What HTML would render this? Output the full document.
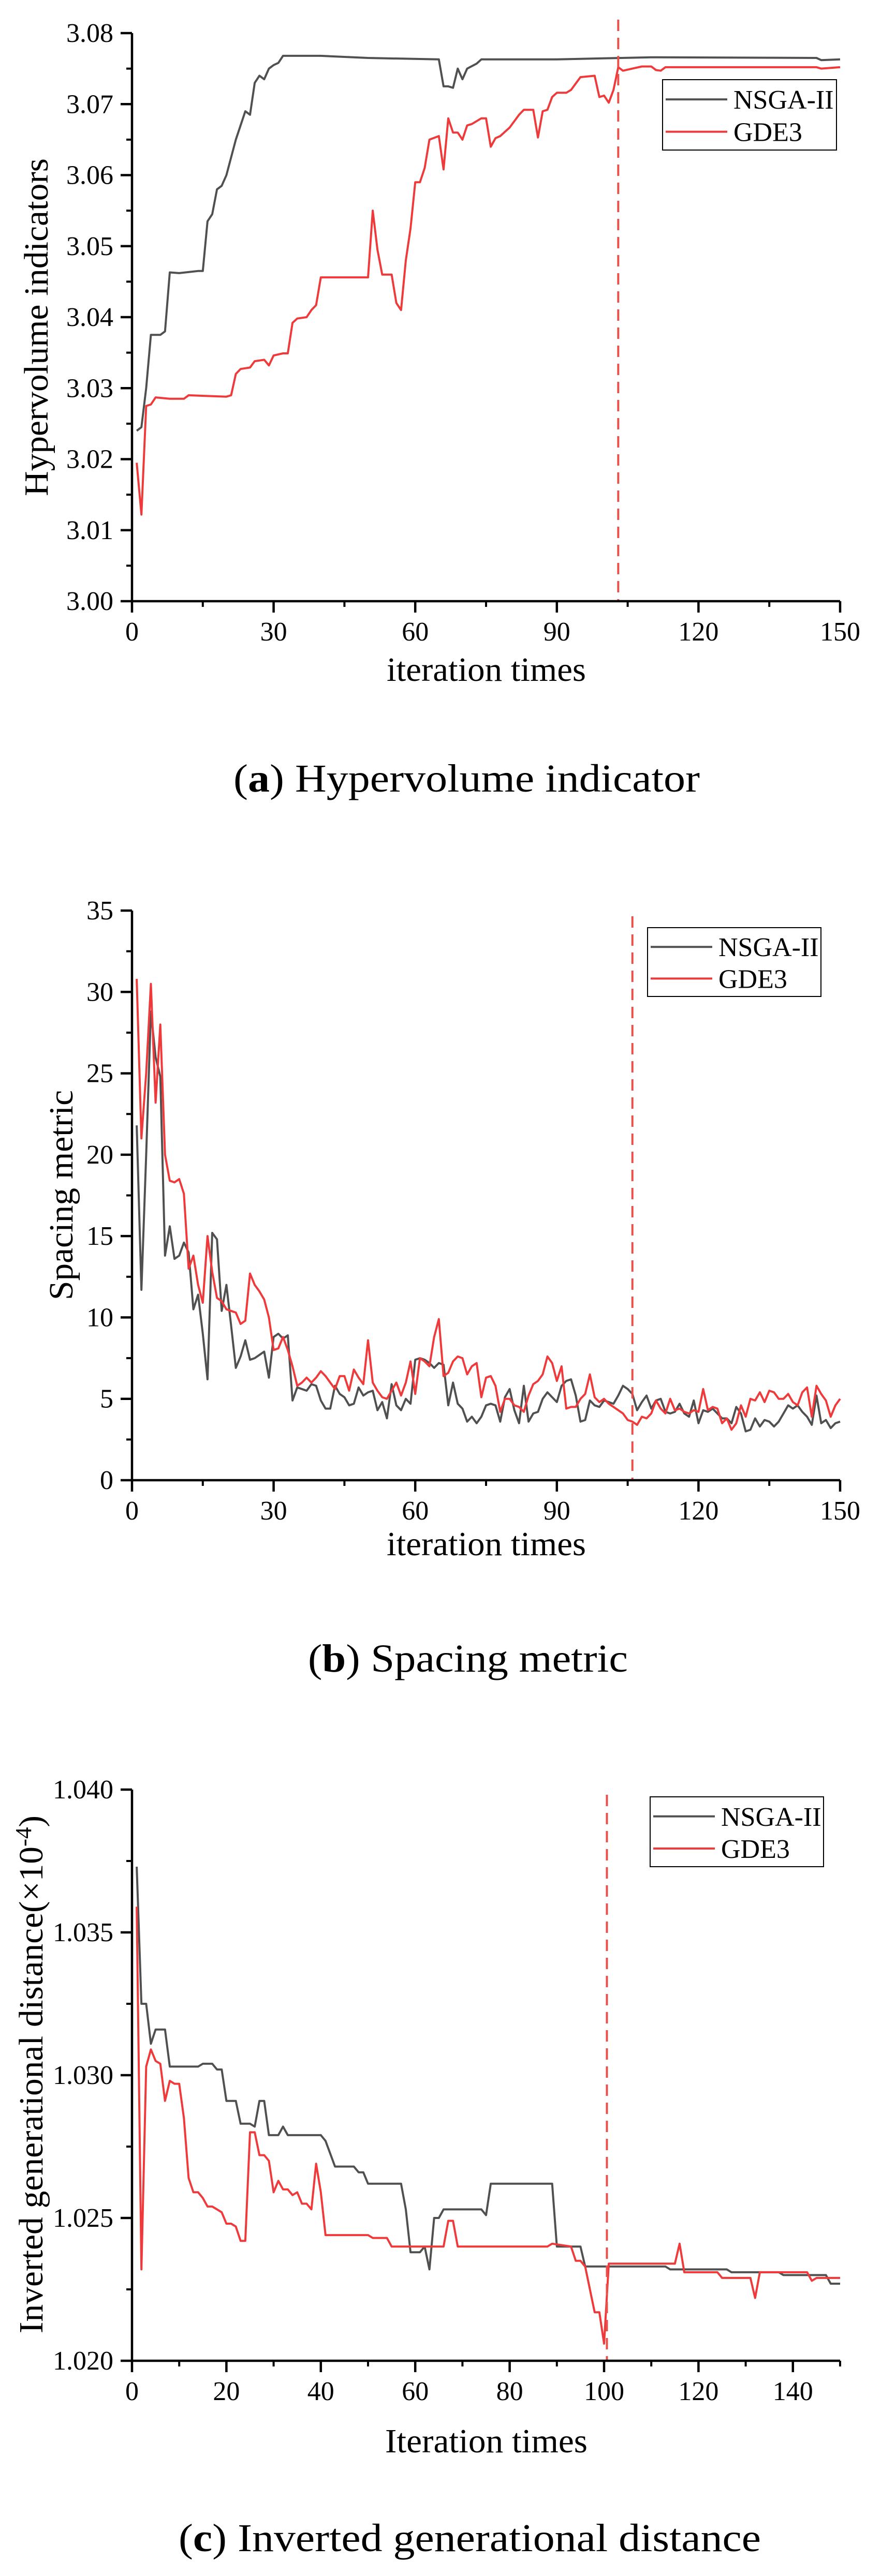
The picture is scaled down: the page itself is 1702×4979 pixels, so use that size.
<!DOCTYPE html>
<html><head><meta charset="utf-8"><style>
html,body{margin:0;padding:0;background:#fff}
svg{display:block}
text{font-family:"Liberation Serif",serif;fill:#000}
</style></head><body>
<svg id="fig" width="1702" height="4979" viewBox="0 0 1702 4979" xmlns="http://www.w3.org/2000/svg"></svg>
<script>
// ---- Chart (a) data ----
const hvNsgaX=[1,2,3,4,6,7,8,10,14,15,16,17,18,19,20,22,24,25,26,27,28,29,30,31,32,40,50,65,66,67,68,69,70,71,73,74,85,90,110,145,146,150];
const hvNsgaY=[3.024,3.0245,3.030,3.0375,3.0375,3.038,3.0463,3.0462,3.0465,3.0465,3.0535,3.0545,3.058,3.0585,3.060,3.065,3.069,3.0685,3.073,3.074,3.0735,3.075,3.0755,3.0758,3.0768,3.0768,3.0765,3.0763,3.0725,3.0725,3.0723,3.075,3.0735,3.075,3.0757,3.0763,3.0763,3.0763,3.0766,3.0765,3.0762,3.0763];
const hvGdeX=[1,2,3,4,5,8,11,12,20,21,22,23,25,26,28,29,30,32,33,34,35,37,38,39,40,50,51,52,53,55,56,57,58,59,60,61,62,63,65,66,67,68,69,70,71,72,74,75,76,77,78,80,82,83,85,86,87,88,89,90,92,93,95,98,99,100,101,102,103,104,106,108,110,111,112,113,145,146,150];
const hvGdeY=[3.0195,3.0122,3.0275,3.0277,3.0287,3.0285,3.0285,3.029,3.0288,3.029,3.032,3.0327,3.0329,3.0338,3.034,3.0332,3.0346,3.0349,3.0349,3.0392,3.0398,3.04,3.041,3.0417,3.0456,3.0456,3.055,3.0495,3.046,3.046,3.042,3.041,3.048,3.0525,3.059,3.059,3.061,3.065,3.0655,3.0608,3.068,3.066,3.066,3.065,3.067,3.0672,3.068,3.068,3.064,3.0652,3.0655,3.0667,3.0685,3.0692,3.0692,3.0653,3.069,3.0692,3.071,3.0716,3.0716,3.072,3.0738,3.074,3.071,3.0712,3.0702,3.072,3.0752,3.0747,3.075,3.0753,3.0753,3.0748,3.0747,3.0752,3.0752,3.075,3.0752];
const hvYTicks=["3.00","3.01","3.02","3.03","3.04","3.05","3.06","3.07","3.08"];
const hvXTicks=["0","30","60","90","120","150"];
const hvMarker=[103];
// ---- Chart (b) data ----
const spNsgaY=[21.8,11.7,20,28.8,26,24.8,13.8,15.6,13.6,13.8,14.6,14,10.5,11.4,9,6.2,15.2,14.8,10.4,12,9.5,6.9,7.6,8.6,7.4,7.5,7.7,7.9,6.3,8.8,9,8.7,8.9,4.9,5.7,5.6,5.5,5.9,5.8,4.9,4.4,4.4,5.8,5.3,5.1,4.6,4.7,5.7,5.2,5.4,5.5,4.3,4.8,3.8,5.9,4.6,4.3,5,4.7,7.4,7.5,7.4,7.2,6.9,7.2,7.1,4.6,6,4.7,4.4,3.6,3.9,3.5,3.9,4.6,4.7,4.6,3.6,5.1,5.6,4.3,3.5,5.8,3.6,4.1,4.2,5,5.4,5.1,4.8,5.8,6.1,6.2,5.2,3.6,3.7,4.9,4.6,4.5,4.9,4.8,4.7,5.2,5.8,5.6,5.3,4.3,4.8,5.2,4.4,4.9,5,4.2,4.1,4.2,4.7,4.1,3.9,4.9,3.5,4.3,4.2,4.4,4.1,3.8,3.8,3.5,4.5,4.1,3,3.1,3.8,3.3,3.7,3.6,3.3,3.6,4.1,4.6,4.4,4.6,4.2,3.9,3.4,5.2,3.5,3.7,3.2,3.5,3.6];
const spGdeY=[30.8,21,25,30.5,23.2,28,20,18.4,18.3,18.5,17.6,13,13.8,12,10.9,15,12.8,11.2,11,10.5,10.4,10.3,9.6,9.8,12.7,12,11.6,11.1,10,8,8.1,8.8,8,7,5.8,6,6.3,6,6.3,6.7,6.4,6,5.6,6.4,6.4,5.5,6.8,6.3,5.9,8.6,6,5.5,5.1,5,5.5,6,5.2,6,7.3,5.3,7.5,7.3,7,8.8,9.9,6.4,6.6,7.3,7.6,7.5,6.5,7,7.2,5.1,6.3,6.4,5.8,4.2,5,5,4.6,4.5,4.2,5.2,5.9,6.1,6.5,7.6,7.2,6.1,7,4.4,4.5,4.5,5,5.3,6.5,5.1,4.8,5,4.7,4.5,4.3,4.1,3.7,3.6,3.4,3.9,3.8,4.1,4.9,4.4,4.1,5,4.3,4.4,4.2,4.1,4.3,4.2,5.6,4.3,4.5,4.4,3.5,3.8,3.1,3.5,4.6,3.9,5,4.9,5.4,4.8,5.5,5.4,5,5,5.3,4.8,4.6,5.4,5.7,3.9,5.8,5.3,4.9,3.9,4.6,5];
const spYTicks=["0","5","10","15","20","25","30","35"];
const spXTicks=["0","30","60","90","120","150"];
const spMarker=[106];
// ---- Chart (c) data ----
const igNsgaX=[1,2,3,4,5,7,8,14,15,17,18,19,20,22,23,25,26,27,28,29,31,32,33,40,41,43,47,48,49,50,57,58,59,61,62,63,64,65,66,74,75,76,89,90,95,96,113,114,126,127,137,138,147,148,150];
const igNsgaY=[1.0373,1.0325,1.0325,1.0311,1.0316,1.0316,1.0303,1.0303,1.0304,1.0304,1.0302,1.0302,1.0291,1.0291,1.0283,1.0283,1.0282,1.0291,1.0291,1.0279,1.0279,1.0282,1.0279,1.0279,1.0277,1.0268,1.0268,1.0266,1.0266,1.0262,1.0262,1.0253,1.0238,1.0238,1.0240,1.0232,1.0250,1.0250,1.0253,1.0253,1.0251,1.0262,1.0262,1.0240,1.0240,1.0233,1.0233,1.0232,1.0232,1.0231,1.0231,1.0230,1.0230,1.0227,1.0227];
const igGdeX=[1,2,3,4,5,6,7,8,9,10,11,12,13,14,15,16,17,18,19,20,21,22,23,24,25,26,27,28,29,30,31,32,33,34,35,36,37,38,39,40,41,50,51,54,55,66,67,68,69,88,89,93,94,95,96,98,99,100,101,115,116,117,124,125,131,132,133,143,144,145,150];
const igGdeY=[1.0359,1.0232,1.0303,1.0309,1.0305,1.0304,1.0291,1.0298,1.0297,1.0297,1.0285,1.0264,1.0259,1.0259,1.0257,1.0254,1.0254,1.0253,1.0252,1.0248,1.0248,1.0247,1.0242,1.0242,1.0280,1.0280,1.0272,1.0272,1.0270,1.0259,1.0263,1.0260,1.0260,1.0258,1.0259,1.0255,1.0255,1.0253,1.0269,1.0259,1.0244,1.0244,1.0243,1.0243,1.0240,1.0240,1.0249,1.0249,1.0240,1.0240,1.0241,1.0240,1.0235,1.0235,1.0233,1.0217,1.0217,1.0206,1.0234,1.0234,1.0241,1.0231,1.0231,1.0229,1.0229,1.0222,1.0231,1.0231,1.0228,1.0229,1.0229];
const igYTicks=["1.020","1.025","1.030","1.035","1.040"];
const igXTicks=["0","20","40","60","80","100","120","140"];
const igMarker=[100.6];

const NS="http://www.w3.org/2000/svg";
const svg=document.getElementById('fig');
function mk(tag,attrs,parent){const e=document.createElementNS(NS,tag);for(const k in attrs)e.setAttribute(k,attrs[k]);(parent||svg).appendChild(e);return e;}
function seq(n){const a=[];for(let i=1;i<=n;i++)a.push(i);return a;}

function chart(c){
  const g=mk('g',{});
  
  
  const X=v=>c.L+(v-c.xmin)/(c.xmax-c.xmin)*(c.R-c.L);
  const Y=v=>c.B-(v-c.ymin)/(c.ymax-c.ymin)*(c.B-c.T);
  c.series.forEach(s=>{
    const d=s.x.map((xv,i)=>(i?'L':'M')+X(xv).toFixed(1)+' '+Y(s.y[i]).toFixed(1)).join(' ');
    const p=mk('path',{d:d,fill:'none',stroke:s.color,'stroke-width':4,'stroke-linejoin':'round'},g);
    
    
  });
  c.marker.forEach(m=>{
    const l=mk('line',{x1:X(m),x2:X(m),y1:c.dashTop,y2:c.B,stroke:'#e8504c','stroke-width':4,'stroke-dasharray':'22 13'},g);
    
    
  });
  const ax=mk('path',{d:`M${c.L} ${c.T} L${c.L} ${c.B} L${c.R} ${c.B}`,fill:'none',stroke:'#000','stroke-width':4.5},g);
  
  
  const yt=c.yTicks.map(Number);
  c.yTicks.forEach((lab,i)=>{
    const y=Y(yt[i]);
    mk('line',{x1:c.L-22,x2:c.L,y1:y,y2:y,stroke:'#000','stroke-width':4.5},g);
    const t=mk('text',{x:c.L-36,y:y+17,'text-anchor':'end','font-size':52},g);
    t.textContent=lab;
    
    
    if(i<yt.length-1){const ym=Y((yt[i]+yt[i+1])/2);mk('line',{x1:c.L-11,x2:c.L,y1:ym,y2:ym,stroke:'#000','stroke-width':4},g);}
  });
  const xt=c.xTicks.map(Number);
  c.xTicks.forEach((lab,i)=>{
    const x=X(xt[i]);
    mk('line',{x1:x,x2:x,y1:c.B,y2:c.B+22,stroke:'#000','stroke-width':4.5},g);
    const t=mk('text',{x:x,y:c.B+76,'text-anchor':'middle','font-size':52},g);
    t.textContent=lab;
    
    
    const step=xt[1]-xt[0];const xm=xt[i]+step/2;
    if(xm<=c.xmax){const xx=X(xm);mk('line',{x1:xx,x2:xx,y1:c.B,y2:c.B+11,stroke:'#000','stroke-width':4},g);}
  });
  const xtT=mk('text',{x:c.xt[0],y:c.xt[1],'font-size':66,textLength:c.xt[2],lengthAdjust:'spacingAndGlyphs'},g);
  xtT.textContent=c.xTitle;
  
  
  const ytT=mk('text',{x:0,y:0,'font-size':66,transform:`translate(${c.yt[0]} ${c.yt[2]}) rotate(-90)`,textLength:c.yt[2]-c.yt[1],lengthAdjust:'spacingAndGlyphs'},g);
  ytT.innerHTML=c.yTitle;
  
  
  const lg=mk('g',{},g);
  
  
  const [lx,ly,lw,lh]=c.legend;
  mk('rect',{x:lx,y:ly,width:lw,height:lh,fill:'#fff',stroke:'#000','stroke-width':2},lg);
  c.series.forEach((s,i)=>{
    const yy=ly+lh*(i?0.74:0.28);
    mk('line',{x1:lx+6,x2:lx+125,y1:yy,y2:yy,stroke:s.color,'stroke-width':4},lg);
    const t=mk('text',{x:lx+137,y:yy+18,'font-size':52},lg);
    t.textContent=s.label;
    
    
  });
  const cp=mk('text',{x:c.cap[0],y:c.cap[1],'font-size':76,textLength:c.cap[2],lengthAdjust:'spacingAndGlyphs'},g);
  cp.innerHTML=c.caption;
  
  
}
const BLK='#505050',RED='#ee3a3a';
chart({name:'hypervolume-chart',L:255,R:1623,T:64,B:1162,xmin:0,xmax:150,ymin:3.00,ymax:3.08,
  series:[{id:'nsga-ii-line',label:'NSGA-II',color:BLK,x:hvNsgaX,y:hvNsgaY},{id:'gde3-line',label:'GDE3',color:RED,x:hvGdeX,y:hvGdeY}],
  marker:hvMarker,dashTop:38,yTicks:hvYTicks,xTicks:hvXTicks,
  xTitle:'iteration times',xt:[747,1316,385],yTitle:'Hypervolume indicators',yt:[92,306,959],
  legend:[1280,154,336,136],caption:'(<tspan font-weight="bold">a</tspan>) Hypervolume indicator',cap:[451,1530,901]});
chart({name:'spacing-chart',L:255,R:1623,T:1760,B:2861,xmin:0,xmax:150,ymin:0,ymax:35,
  series:[{id:'nsga-ii-line',label:'NSGA-II',color:BLK,x:seq(150),y:spNsgaY},{id:'gde3-line',label:'GDE3',color:RED,x:seq(150),y:spGdeY}],
  marker:spMarker,dashTop:1771,yTicks:spYTicks,xTicks:spXTicks,
  xTitle:'iteration times',xt:[747,3006,385],yTitle:'Spacing metric',yt:[140,2107,2513],
  legend:[1251,1793,335,133],caption:'(<tspan font-weight="bold">b</tspan>) Spacing metric',cap:[595,3231,618]});
chart({name:'igd-chart',L:255,R:1623,T:3459,B:4563,xmin:0,xmax:150,ymin:1.020,ymax:1.040,
  series:[{id:'nsga-ii-line',label:'NSGA-II',color:BLK,x:igNsgaX,y:igNsgaY},{id:'gde3-line',label:'GDE3',color:RED,x:igGdeX,y:igGdeY}],
  marker:igMarker,dashTop:3469,yTicks:igYTicks,xTicks:igXTicks,
  xTitle:'Iteration times',xt:[744,4740,391],yTitle:'Inverted generational distance(×10<tspan dy="-22" font-size="44">-4</tspan><tspan dy="22">)</tspan>',yt:[82,3509,4510],
  legend:[1256,3473,335,135],caption:'(<tspan font-weight="bold">c</tspan>) Inverted generational distance',cap:[345,4931,1125]});
</script>
</body></html>
